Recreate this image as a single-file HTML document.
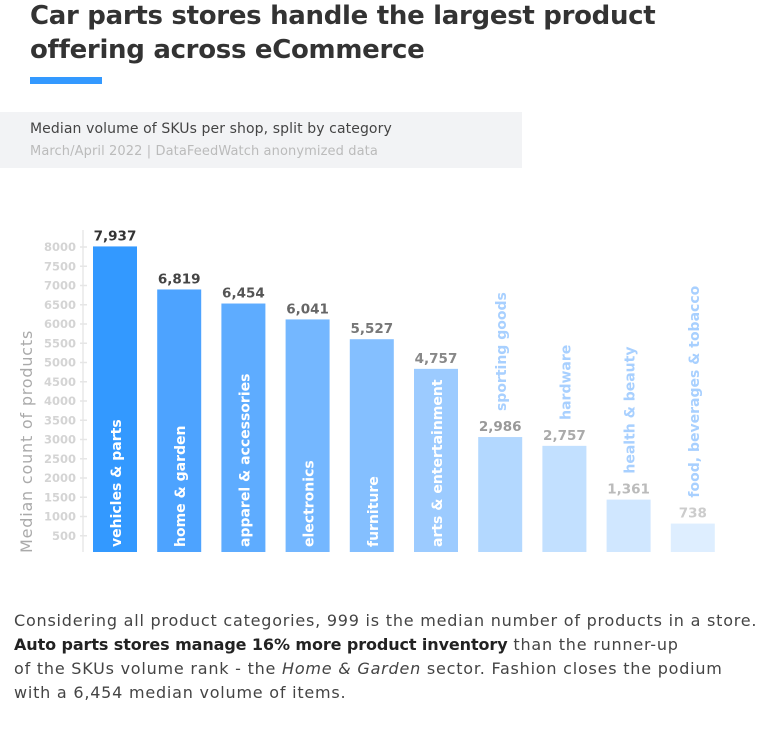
<!DOCTYPE html>
<html><head><meta charset="utf-8"><style>
body{margin:0;width:771px;height:734px;background:#fff;font-family:"DejaVu Sans","Liberation Sans",sans-serif;position:relative;overflow:hidden}
.t{position:absolute;left:30px;top:-1px;font-size:26px;font-weight:bold;color:#333;line-height:34px;letter-spacing:-0.3px}
.u{position:absolute;left:30px;top:77px;width:72px;height:7px;background:#3399ff}
.box{position:absolute;left:0;top:112px;width:522px;height:56px;background:#f2f3f5}
.s1{position:absolute;left:30px;top:121px;font-size:14px;color:#444;letter-spacing:0.1px}
.s2{position:absolute;left:30px;top:144px;font-size:13px;color:#bbb;letter-spacing:0.1px}
.p{position:absolute;left:14px;top:609px;font-size:16px;line-height:24px;color:#444;width:770px;letter-spacing:0.78px;white-space:nowrap}
</style></head><body>
<div class="t">Car parts stores handle the largest product<br>offering across eCommerce</div>
<div class="u"></div>
<div class="box"></div>
<div class="s1">Median volume of SKUs per shop, split by category</div>
<div class="s2">March/April 2022 | DataFeedWatch anonymized data</div>
<svg id="c" width="771" height="734" style="position:absolute;left:0;top:0"></svg>
<div class="p">Considering all product categories, 999 is the median number of products in a store.<br><b style="color:#222;letter-spacing:-0.1px">Auto parts stores manage 16% more product inventory</b> than the runner-up<br>of the SKUs volume rank - the <i>Home &amp; Garden</i> sector. Fashion closes the podium<br>with a 6,454 median volume of items.</div>
<script>
const categories=["vehicles & parts","home & garden","apparel & accessories","electronics","furniture","arts & entertainment","sporting goods","hardware","health & beauty","food, beverages & tobacco"];
const values=[7937,6819,6454,6041,5527,4757,2986,2757,1361,738];
const valueLabels=["7,937","6,819","6,454","6,041","5,527","4,757","2,986","2,757","1,361","738"];
const ticks=[500,1000,1500,2000,2500,3000,3500,4000,4500,5000,5500,6000,6500,7000,7500,8000];
const barColors=["#3399ff","#4da3ff","#5eacff","#74b7ff","#84bfff","#9ccbff","#b3d8ff","#c2e0ff","#d0e7ff","#deeeff"];
const labelColors=["#333","#444","#555","#666","#777","#888","#999","#aaa","#bbb","#ccc"];
const svg=document.getElementById('c');const NS="http://www.w3.org/2000/svg";
const base=552,k=0.0385,x0=93,pitch=64.2,bw=44;
function y(v){return base-v*k;}
function x(i){return x0+i*pitch;}
function mk(t,a,txt){const e=document.createElementNS(NS,t);for(const n in a)e.setAttribute(n,a[n]);if(txt!=null)e.textContent=txt;svg.appendChild(e);return e;}
let ax=mk('line',{x1:83,x2:83,y1:230,y2:552,stroke:'#eee','stroke-width':2});


ticks.forEach(v=>{
 const ty=y(v)+3;
 let l=mk('line',{x1:80,x2:87,y1:ty,y2:ty,stroke:'#e6e6e6','stroke-width':1.5});
 
 
 let t=mk('text',{x:76,y:ty+4,'text-anchor':'end','font-size':11.5,'font-weight':'bold',fill:'#d4d4d4'},String(v));
 
 
});
let yt=mk('text',{x:0,y:0,transform:'translate(32,553) rotate(-90)','font-size':16,fill:'#aaa','letter-spacing':0.8},'Median count of products');


values.forEach((v,i)=>{
 const r=mk('rect',{x:x(i),y:y(v),width:bw,height:base-y(v),fill:barColors[i]});
 
 
 const vl=mk('text',{x:x(i)+bw/2,y:y(v)-6,'text-anchor':'middle','font-size':13.5,'font-weight':'bold',fill:labelColors[i]},valueLabels[i]);
 
 
 const inside=i<6;
 const ly=inside?base-5:y(v)-26;
 const cl=mk('text',{x:0,y:0,transform:'translate('+(x(i)+bw/2+6)+','+ly+') rotate(-90)','font-size':14,'font-weight':'bold',fill:inside?'#fff':'#a8d0ff'},categories[i]);
 
 
});
</script>
</body></html>
